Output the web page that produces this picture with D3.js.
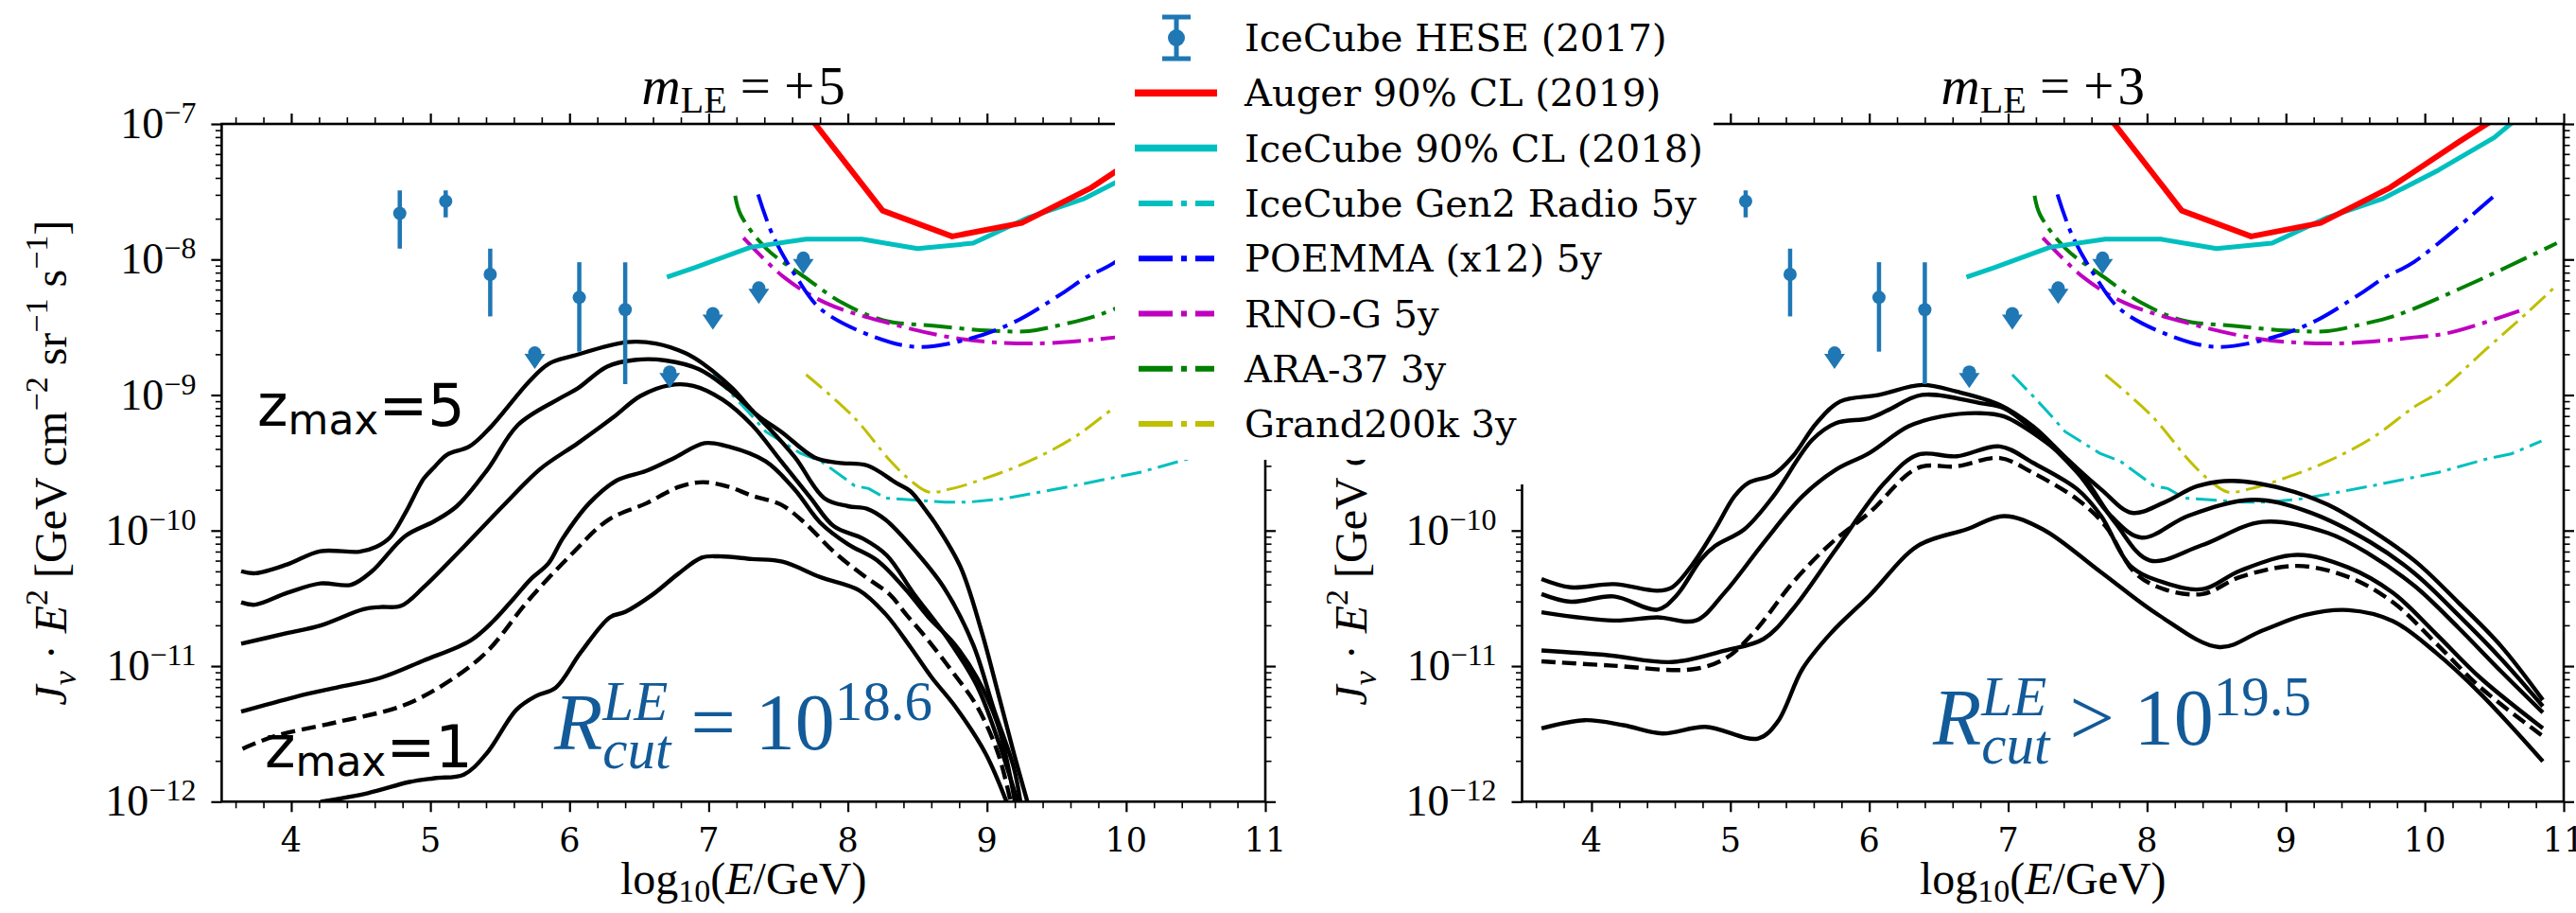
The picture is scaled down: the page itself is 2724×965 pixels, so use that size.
<!DOCTYPE html>
<html>
<head>
<meta charset="utf-8">
<script src="https://cdn.jsdelivr.net/npm/d3@7"></script>
<style>
  html, body { margin: 0; padding: 0; background: #fff; }
  svg { display: block; }
  text { white-space: pre; }
</style>
</head>
<body>
<svg id="fig" width="2724" height="965"></svg>
<script>
// ---------------------------------------------------------------------------
// Data: x = log10(E/GeV), y = log10(J_nu * E^2 / [GeV cm^-2 sr^-1 s^-1])
// ---------------------------------------------------------------------------

// IceCube HESE (2017) measured points with error bars
const heseLogE      = [4.78, 5.11, 5.43, 6.07, 6.40];
const heseLogFlux   = [-7.66, -7.57, -8.11, -8.28, -8.37];
const heseLogFluxHi = [-7.49, -7.49, -7.92, -8.02, -8.02];
const heseLogFluxLo = [-7.92, -7.69, -8.42, -8.68, -8.92];
// IceCube HESE (2017) upper limits
const heseLimLogE    = [5.75, 6.72, 7.03, 7.36, 7.68];
const heseLimLogFlux = [-8.69, -8.83, -8.40, -8.21, -7.99];

// Auger 90% CL (2019)
const augerLimit = [[7.75, -6.98], [8.25, -7.64], [8.75, -7.83], [9.25, -7.73], [9.75, -7.47], [10.25, -7.13], [10.75, -6.80]];
// IceCube 90% CL (2018)
const icecubeLimit = [[6.7, -8.13], [6.9, -8.06], [7.3, -7.91], [7.7, -7.85], [8.1, -7.85], [8.5, -7.92], [8.9, -7.88],
                      [9.3, -7.69], [9.7, -7.55], [10.1, -7.34], [10.5, -7.10], [10.9, -6.76]];
// Projected sensitivities
const gen2Radio = [[7.03, -8.85], [7.19, -9.02], [7.29, -9.13], [7.41, -9.27], [7.66, -9.43], [7.81, -9.49], [8.05, -9.67],
                   [8.15, -9.69], [8.27, -9.76], [8.70, -9.79], [8.87, -9.79], [9.12, -9.765], [9.36, -9.72], [9.63, -9.668],
                   [10.10, -9.57], [10.45, -9.47], [10.62, -9.435], [10.84, -9.34]];
const poemma = [[7.355, -7.52], [7.46, -7.82], [7.63, -8.13], [7.81, -8.37], [8.20, -8.575], [8.50, -8.645], [8.87, -8.586],
                [9.20, -8.46], [9.54, -8.25], [9.71, -8.133], [9.92, -8.02], [10.49, -7.54]];
const rnoG = [[7.25, -7.84], [7.54, -8.13], [7.84, -8.32], [8.26, -8.46], [8.81, -8.586], [9.34, -8.62], [9.92, -8.575],
              [10.18, -8.54], [10.68, -8.38]];
const ara37 = [[7.19, -7.53], [7.23, -7.67], [7.415, -7.92], [7.69, -8.13], [7.96, -8.32], [8.26, -8.45], [8.63, -8.49],
               [9.00, -8.524], [9.30, -8.528], [9.54, -8.48], [9.80, -8.41], [10.33, -8.18], [10.95, -7.88]];
const grand200k = [[7.70, -8.85], [8.04, -9.16], [8.30, -9.48], [8.45, -9.63], [8.58, -9.715], [8.75, -9.69], [9.00, -9.61],
                   [9.30, -9.49], [9.63, -9.31], [9.92, -9.09], [10.08, -8.99], [10.46, -8.645], [10.74, -8.39], [10.95, -8.19]];

// Model neutrino fluxes, m_LE = +5 (z_max from 5 down to 1; the dashed one is drawn dashed)
const m5A = [[3.64, -10.30], [3.74, -10.315], [3.97, -10.25], [4.21, -10.152], [4.49, -10.156], [4.61, -10.12], [4.71, -10.05],
             [4.82, -9.87], [4.95, -9.62], [5.03, -9.53], [5.12, -9.44], [5.28, -9.38], [5.43, -9.24], [5.71, -8.90],
             [5.85, -8.77], [6.03, -8.71], [6.41, -8.61], [6.62, -8.62], [6.83, -8.69], [6.96, -8.77], [7.17, -8.95],
             [7.34, -9.14], [7.52, -9.27], [7.76, -9.46], [7.93, -9.50], [8.14, -9.52], [8.35, -9.65], [8.45, -9.71],
             [8.56, -9.85], [8.63, -9.95], [8.81, -10.27], [8.96, -10.74], [9.08, -11.20], [9.20, -11.67], [9.29, -12.0]];
const m5B = [[3.64, -10.53], [3.74, -10.547], [3.97, -10.46], [4.21, -10.39], [4.43, -10.40], [4.58, -10.30], [4.82, -10.04],
             [5.03, -9.93], [5.19, -9.82], [5.41, -9.55], [5.63, -9.22], [5.92, -9.03], [6.06, -8.95], [6.27, -8.79],
             [6.48, -8.74], [6.69, -8.745], [6.93, -8.81], [7.17, -8.98], [7.41, -9.22], [7.62, -9.46], [7.83, -9.76],
             [8.00, -9.82], [8.14, -9.84], [8.27, -9.92], [8.45, -10.11], [8.69, -10.42], [8.90, -10.84], [9.05, -11.32],
             [9.19, -11.74], [9.24, -12.0]];
const m5C = [[3.64, -10.835], [3.97, -10.757], [4.21, -10.70], [4.52, -10.58], [4.64, -10.564], [4.79, -10.555], [4.95, -10.42],
             [5.24, -10.12], [5.53, -9.81], [5.79, -9.545], [6.06, -9.355], [6.31, -9.168], [6.51, -9.007], [6.72, -8.927],
             [6.89, -8.932], [7.10, -9.034], [7.31, -9.22], [7.52, -9.488], [7.73, -9.756], [7.90, -9.969], [8.11, -10.06],
             [8.28, -10.183], [8.47, -10.46], [8.72, -10.80], [8.93, -11.15], [9.08, -11.55], [9.22, -12.0]];
const m5D = [[3.64, -11.336], [4.03, -11.227], [4.33, -11.157], [4.64, -11.087], [4.95, -10.96], [5.29, -10.81], [5.45, -10.67],
             [5.60, -10.50], [5.72, -10.36], [5.85, -10.24], [5.95, -10.06], [6.14, -9.80], [6.34, -9.63], [6.55, -9.56],
             [6.76, -9.46], [6.97, -9.355], [7.14, -9.38], [7.41, -9.49], [7.62, -9.70], [7.80, -9.94], [8.00, -10.10],
             [8.21, -10.22], [8.42, -10.44], [8.58, -10.64], [8.76, -10.83], [8.93, -11.09], [9.08, -11.44], [9.20, -12.0]];
const m5E = [[3.65, -11.61], [3.88, -11.517], [4.33, -11.413], [4.79, -11.296], [5.09, -11.14], [5.40, -10.90], [5.70, -10.52],
             [6.00, -10.19], [6.28, -9.92], [6.55, -9.80], [6.79, -9.676], [6.96, -9.643], [7.14, -9.676], [7.31, -9.742],
             [7.52, -9.809], [7.69, -9.943], [7.90, -10.157], [8.11, -10.33], [8.30, -10.47], [8.42, -10.62], [8.57, -10.80],
             [8.75, -11.04], [8.93, -11.30], [9.08, -11.645], [9.17, -12.0]];
const m5F = [[4.21, -12.0], [4.55, -11.937], [4.85, -11.855], [5.03, -11.827], [5.24, -11.80], [5.40, -11.65], [5.62, -11.32],
             [5.76, -11.22], [5.90, -11.16], [6.08, -10.90], [6.29, -10.64], [6.40, -10.60], [6.60, -10.47], [6.78, -10.32],
             [6.95, -10.20], [7.07, -10.19], [7.31, -10.21], [7.53, -10.23], [7.80, -10.343], [8.08, -10.44], [8.27, -10.615],
             [8.45, -10.86], [8.60, -11.08], [8.78, -11.31], [8.99, -11.645], [9.14, -12.0]];

// Model neutrino fluxes, m_LE = +3
const m3A = [[3.64, -10.358], [3.85, -10.419], [4.16, -10.395], [4.475, -10.444], [4.58, -10.419], [4.72, -10.26], [4.89, -9.99],
             [5.03, -9.746], [5.13, -9.648], [5.31, -9.587], [5.45, -9.452], [5.62, -9.207], [5.79, -9.048], [6.07, -8.999],
             [6.38, -8.926], [6.63, -8.975], [6.94, -9.073], [7.18, -9.232], [7.43, -9.477], [7.67, -9.697], [7.89, -9.869],
             [8.12, -9.795], [8.36, -9.673], [8.61, -9.633], [8.98, -9.691], [9.30, -9.808], [9.61, -9.994], [9.93, -10.226],
             [10.24, -10.529], [10.55, -10.854], [10.85, -11.25]];
const m3B = [[3.64, -10.468], [3.85, -10.525], [4.16, -10.486], [4.475, -10.583], [4.61, -10.481], [4.79, -10.211], [4.89, -10.113],
             [5.10, -9.991], [5.31, -9.746], [5.59, -9.33], [5.76, -9.207], [6.00, -9.171], [6.14, -9.109], [6.38, -8.999],
             [6.80, -9.06], [6.97, -9.097], [7.18, -9.256], [7.50, -9.575], [7.74, -9.893], [7.96, -10.052], [8.30, -9.89],
             [8.76, -9.773], [9.14, -9.854], [9.61, -10.087], [9.93, -10.319], [10.24, -10.622], [10.55, -10.947], [10.85, -11.296]];
const m3C = [[3.64, -10.603], [4.16, -10.664], [4.475, -10.64], [4.75, -10.664], [4.96, -10.456], [5.24, -10.089], [5.52, -9.746],
             [5.76, -9.55], [6.00, -9.428], [6.28, -9.232], [6.52, -9.158], [6.80, -9.134], [6.97, -9.158], [7.18, -9.281],
             [7.50, -9.55], [7.77, -9.942], [8.02, -10.22], [8.39, -10.11], [8.83, -9.936], [9.30, -10.017], [9.61, -10.18],
             [9.93, -10.412], [10.24, -10.715], [10.55, -11.04], [10.85, -11.343]];
const m3D = [[3.64, -10.885], [4.13, -10.921], [4.58, -10.97], [4.96, -10.885], [5.24, -10.799], [5.45, -10.579], [5.76, -10.138],
             [6.11, -9.648], [6.35, -9.44], [6.63, -9.452], [6.94, -9.379], [7.18, -9.501], [7.50, -9.697], [7.67, -9.893],
             [7.88, -10.26], [8.12, -10.383], [8.40, -10.432], [8.67, -10.296], [9.08, -10.18], [9.45, -10.273], [9.77, -10.459],
             [10.08, -10.761], [10.40, -11.087], [10.85, -11.459]];
const m3E = [[3.64, -10.965], [4.13, -10.995], [4.72, -11.024], [4.96, -10.946], [5.17, -10.75], [5.45, -10.383], [5.73, -10.089],
             [6.00, -9.869], [6.35, -9.538], [6.63, -9.526], [6.94, -9.465], [7.18, -9.575], [7.50, -9.771], [7.70, -9.966],
             [7.91, -10.309], [8.12, -10.432], [8.40, -10.468], [8.67, -10.343], [9.08, -10.261], [9.45, -10.343], [9.77, -10.529],
             [10.08, -10.831], [10.40, -11.157], [10.85, -11.517]];
const m3F = [[3.64, -11.46], [3.95, -11.399], [4.23, -11.436], [4.51, -11.497], [4.82, -11.448], [5.20, -11.534], [5.34, -11.411],
             [5.52, -11.019], [5.73, -10.75], [6.00, -10.481], [6.35, -10.113], [6.70, -9.991], [6.97, -9.893], [7.25, -9.991],
             [7.67, -10.309], [8.09, -10.628], [8.52, -10.86], [8.83, -10.738], [9.14, -10.622], [9.45, -10.587], [9.77, -10.668],
             [10.08, -10.901], [10.40, -11.203], [10.85, -11.703]];

// Axis ticks and labels
const energyMajorTicks = [4, 5, 6, 7, 8, 9, 10, 11];
const fluxDecadeExponents = [-12, -11, -10, -9, -8, -7];
const panelTitleValues = ["+5", "+3"];
const cutoffRelations = ["=", ">"];
const cutoffExponents = ["18.6", "19.5"];
const legendLabels = ["IceCube HESE (2017)", "Auger 90% CL (2019)", "IceCube 90% CL (2018)", "IceCube Gen2 Radio 5y",
                      "POEMMA (x12) 5y", "RNO-G 5y", "ARA-37 3y", "Grand200k 3y"];

// ---------------------------------------------------------------------------
// Styling and layout
// ---------------------------------------------------------------------------
const MATH_FONT = "'Liberation Serif', 'Times New Roman', serif";
const SERIF_FONT = "'DejaVu Serif', serif";
const SANS_FONT = "'DejaVu Sans', sans-serif";
const HESE_COLOR = "#1f77b4";
const NOTE_COLOR = "#125a98";
const Y_TOP = 131, Y_BOT = 847.3;

const svg = d3.select("#fig");
const defs = svg.append("defs");

// Lays out a sequence of text runs (with sub/superscripts) starting at the group origin.
function richText(parent, runs, family, color) {
  const g = parent.append("g");
  let cx = 0, lastStart = 0;
  runs.forEach(r => {
    const startX = r.stack ? lastStart : cx;
    const t = g.append("text")
      .attr("x", startX)
      .attr("y", r.dy || 0)
      .attr("font-family", r.family || family)
      .attr("font-size", r.size)
      .attr("font-style", r.italic ? "italic" : "normal")
      .attr("fill", color || "#000")
      .text(r.t);
    const w = t.node().getComputedTextLength();
    if (r.stack) {
      cx = Math.max(cx, startX + w);
    } else {
      lastStart = startX;
      cx = startX + w + (r.gap || 0);
    }
  });
  return { g, width: cx };
}

const dashStyles = {
  thick: { width: 4, dash: "30 8 5 8" },
  thin: { width: 3, dash: "22 7 4 7" }
};

function drawPanel(p, idx) {
  const x = d3.scaleLinear().domain([3.5, 11]).range([p.x0, p.x1]);
  const y = d3.scaleLog().domain([1e-12, 1e-7]).range([Y_BOT, Y_TOP]);
  const g = svg.append("g").attr("class", "panel-" + p.id);

  const clipId = "clip-" + p.id;
  defs.append("clipPath").attr("id", clipId).append("rect")
    .attr("x", p.x0).attr("y", Y_TOP).attr("width", p.x1 - p.x0).attr("height", Y_BOT - Y_TOP);
  const plot = g.append("g").attr("clip-path", `url(#${clipId})`);

  const px = d => x(d[0]);
  const py = d => y(Math.pow(10, d[1]));
  const smooth = d3.line().x(px).y(py).curve(d3.curveCatmullRom.alpha(0.5));
  const straight = d3.line().x(px).y(py);

  // experimental limits and projected sensitivities
  const sens = [
    { data: gen2Radio, color: "#00bfbf", style: dashStyles.thin, gen: straight },
    { data: grand200k, color: "#bfbf00", style: dashStyles.thin, gen: smooth },
    { data: ara37, color: "#008000", style: dashStyles.thick, gen: smooth },
    { data: rnoG, color: "#bf00bf", style: dashStyles.thick, gen: smooth },
    { data: poemma, color: "#0000ff", style: dashStyles.thick, gen: smooth }
  ];
  sens.forEach(s => {
    plot.append("path").attr("d", s.gen(s.data)).attr("fill", "none")
      .attr("stroke", s.color).attr("stroke-width", s.style.width)
      .attr("stroke-dasharray", s.style.dash);
  });
  plot.append("path").attr("d", straight(icecubeLimit)).attr("fill", "none")
    .attr("stroke", "#00bfbf").attr("stroke-width", 5).attr("stroke-linejoin", "round");
  plot.append("path").attr("d", straight(augerLimit)).attr("fill", "none")
    .attr("stroke", "#ff0000").attr("stroke-width", 6).attr("stroke-linejoin", "round");

  // model fluxes
  p.solid.forEach(c => {
    plot.append("path").attr("d", smooth(c)).attr("fill", "none")
      .attr("stroke", "#000").attr("stroke-width", 4.4).attr("stroke-linejoin", "round");
  });
  plot.append("path").attr("d", smooth(p.dashed)).attr("fill", "none")
    .attr("stroke", "#000").attr("stroke-width", 4.4).attr("stroke-dasharray", "15 7");

  // IceCube HESE points and upper limits
  const hese = plot.append("g");
  heseLogE.forEach((e, i) => {
    hese.append("line")
      .attr("x1", x(e)).attr("x2", x(e))
      .attr("y1", y(Math.pow(10, heseLogFluxHi[i]))).attr("y2", y(Math.pow(10, heseLogFluxLo[i])))
      .attr("stroke", HESE_COLOR).attr("stroke-width", 4.5);
    hese.append("circle").attr("cx", x(e)).attr("cy", y(Math.pow(10, heseLogFlux[i]))).attr("r", 7)
      .attr("fill", HESE_COLOR);
  });
  heseLimLogE.forEach((e, i) => {
    const cx = x(e), cy = y(Math.pow(10, heseLimLogFlux[i]));
    hese.append("circle").attr("cx", cx).attr("cy", cy).attr("r", 7).attr("fill", HESE_COLOR);
    hese.append("path")
      .attr("d", `M${cx - 11},${cy + 1} L${cx + 11},${cy + 1} L${cx},${cy + 17} Z`)
      .attr("fill", HESE_COLOR);
  });

  // ticks
  const xMinor = d3.range(3.6, 11.0, 0.2).filter(v => Math.abs(v - Math.round(v)) > 1e-6);
  const yMajor = fluxDecadeExponents.map(k => Math.pow(10, k));
  const yMinor = y.ticks().filter(v => Math.abs(Math.log10(v) - Math.round(Math.log10(v))) > 1e-6);
  const styleAxis = (sel, w) => {
    sel.select(".domain").remove();
    sel.selectAll(".tick text").remove();
    sel.selectAll(".tick line").attr("stroke", "#000").attr("stroke-width", w);
  };
  const blank = () => "";
  const axes = g.append("g");
  axes.append("g").attr("transform", `translate(0,${Y_BOT})`)
    .call(d3.axisBottom(x).tickValues(energyMajorTicks).tickSize(11).tickFormat(blank)).call(s => styleAxis(s, 2.2));
  axes.append("g").attr("transform", `translate(0,${Y_BOT})`)
    .call(d3.axisBottom(x).tickValues(xMinor).tickSize(7).tickFormat(blank)).call(s => styleAxis(s, 1.6));
  axes.append("g").attr("transform", `translate(0,${Y_TOP})`)
    .call(d3.axisTop(x).tickValues(energyMajorTicks).tickSize(11).tickFormat(blank)).call(s => styleAxis(s, 2.2));
  axes.append("g").attr("transform", `translate(0,${Y_TOP})`)
    .call(d3.axisTop(x).tickValues(xMinor).tickSize(7).tickFormat(blank)).call(s => styleAxis(s, 1.6));
  axes.append("g").attr("transform", `translate(${p.x0},0)`)
    .call(d3.axisLeft(y).tickValues(yMajor).tickSize(11).tickFormat(blank)).call(s => styleAxis(s, 2.2));
  axes.append("g").attr("transform", `translate(${p.x0},0)`)
    .call(d3.axisLeft(y).tickValues(yMinor).tickSize(6.5).tickFormat(blank)).call(s => styleAxis(s, 1.6));
  axes.append("g").attr("transform", `translate(${p.x1},0)`)
    .call(d3.axisRight(y).tickValues(yMajor).tickSize(11).tickFormat(blank)).call(s => styleAxis(s, 2.2));
  axes.append("g").attr("transform", `translate(${p.x1},0)`)
    .call(d3.axisRight(y).tickValues(yMinor).tickSize(6.5).tickFormat(blank)).call(s => styleAxis(s, 1.6));

  // spines
  axes.append("rect").attr("x", p.x0).attr("y", Y_TOP).attr("width", p.x1 - p.x0).attr("height", Y_BOT - Y_TOP)
    .attr("fill", "none").attr("stroke", "#000").attr("stroke-width", 2.6);

  // x tick labels
  energyMajorTicks.forEach(v => {
    axes.append("text").attr("x", x(v)).attr("y", 900).attr("text-anchor", "middle")
      .attr("font-family", SERIF_FONT).attr("font-size", 35).text(String(v));
  });
  // y tick labels: 10^k
  fluxDecadeExponents.forEach(k => {
    const lab = richText(axes, [
      { t: "10", size: 46 },
      { t: "\u2212" + Math.abs(k), size: 32, dy: -16 }
    ], MATH_FONT);
    lab.g.attr("transform", `translate(${p.x0 - 27 - lab.width},${y(Math.pow(10, k)) + 15})`);
  });

  // x axis label
  const xl = richText(axes, [
    { t: "log", size: 48 }, { t: "10", size: 34, dy: 8 }, { t: "(", size: 48 },
    { t: "E", size: 48, italic: true }, { t: "/GeV)", size: 48 }
  ], MATH_FONT);
  xl.g.attr("transform", `translate(${(p.x0 + p.x1) / 2 - xl.width / 2},945)`);

  // y axis label
  const yl = richText(axes, [
    { t: "J", size: 48, italic: true }, { t: "\u03bd", size: 34, dy: 10, italic: true },
    { t: " \u00b7 ", size: 48 }, { t: "E", size: 48, italic: true }, { t: "2", size: 34, dy: -20 },
    { t: " [GeV cm", size: 48 }, { t: "\u22122", size: 34, dy: -20 },
    { t: " sr", size: 48 }, { t: "\u22121", size: 34, dy: -20 },
    { t: " s", size: 48 }, { t: "\u22121", size: 34, dy: -20 }, { t: "]", size: 48 }
  ], MATH_FONT);
  yl.g.attr("transform", `translate(${p.ylabelX},${(Y_TOP + Y_BOT) / 2 + yl.width / 2}) rotate(-90)`);

  // panel title
  const tt = richText(g, [
    { t: "m", size: 57, italic: true }, { t: "LE", size: 40, dy: 9 },
    { t: " = +", size: 57, gap: 4 }, { t: panelTitleValues[idx].slice(1), size: 57 }
  ], MATH_FONT);
  tt.g.attr("transform", `translate(${(p.x0 + p.x1) / 2 - tt.width / 2},110)`);

  // cutoff annotation
  const cut = richText(g, [
    { t: "R", size: 84, italic: true },
    { t: "LE", size: 59, italic: true, dy: -31 },
    { t: "cut", size: 59, italic: true, dy: 20, stack: true },
    { t: " " + cutoffRelations[idx] + " 10", size: 84 },
    { t: cutoffExponents[idx], size: 59, dy: -31 }
  ], MATH_FONT, NOTE_COLOR);
  cut.g.attr("transform", `translate(${p.cutX},${p.cutY})`);

  // z_max labels
  if (p.zLabels) {
    const z5 = richText(g, [{ t: "z", size: 62 }, { t: "max", size: 44, dy: 9 }, { t: "=5", size: 62 }], SANS_FONT);
    z5.g.attr("transform", "translate(272,450)");
    const z1 = richText(g, [{ t: "z", size: 62 }, { t: "max", size: 44, dy: 9 }, { t: "=1", size: 62 }], SANS_FONT);
    z1.g.attr("transform", "translate(280,811)");
  }
}

const panels = [
  { id: "m5", x0: 234.4, x1: 1338, solid: [m5A, m5B, m5C, m5D, m5F], dashed: m5E,
    cutX: 586, cutY: 792, ylabelX: 70, zLabels: true },
  { id: "m3", x0: 1609.5, x1: 2711, solid: [m3A, m3B, m3C, m3D, m3F], dashed: m3E,
    cutX: 2044, cutY: 787, ylabelX: 1445, zLabels: false }
];
panels.forEach(drawPanel);

// ---------------------------------------------------------------------------
// Legend (opaque box, sits over both panels)
// ---------------------------------------------------------------------------
const legend = svg.append("g");
legend.append("path")
  .attr("d", "M1179,-5 H1812 V512 H1530 V486 H1179 Z")
  .attr("fill", "#fff");

const rowY = i => 40 + i * 58.3;
const handleX0 = 1204, handleX1 = 1285;
// HESE errorbar handle
const hx = 1244;
legend.append("line").attr("x1", hx).attr("x2", hx).attr("y1", rowY(0) - 22).attr("y2", rowY(0) + 22)
  .attr("stroke", HESE_COLOR).attr("stroke-width", 5);
[-22, 22].forEach(o => legend.append("line").attr("x1", hx - 15).attr("x2", hx + 15)
  .attr("y1", rowY(0) + o).attr("y2", rowY(0) + o).attr("stroke", HESE_COLOR).attr("stroke-width", 5));
legend.append("circle").attr("cx", hx).attr("cy", rowY(0)).attr("r", 9).attr("fill", HESE_COLOR);

const legendHandles = [
  null,
  { color: "#ff0000", width: 7.5, dash: null },
  { color: "#00bfbf", width: 7.5, dash: null },
  { color: "#00bfbf", width: 6, dash: "36 9 6 9" },
  { color: "#0000ff", width: 6, dash: "36 9 6 9" },
  { color: "#bf00bf", width: 6, dash: "36 9 6 9" },
  { color: "#008000", width: 6, dash: "36 9 6 9" },
  { color: "#bfbf00", width: 6, dash: "36 9 6 9" }
];
legendHandles.forEach((h, i) => {
  if (!h) return;
  const isSolid = !h.dash;
  legend.append("line")
    .attr("x1", isSolid ? 1200 : handleX0).attr("x2", isSolid ? 1287 : handleX1 - 1)
    .attr("y1", rowY(i)).attr("y2", rowY(i))
    .attr("stroke", h.color).attr("stroke-width", h.width)
    .attr("stroke-dasharray", h.dash);
});
legendLabels.forEach((lab, i) => {
  legend.append("text").attr("x", 1316).attr("y", rowY(i) + 14)
    .attr("font-family", SERIF_FONT).attr("font-size", 40).attr("fill", "#000").text(lab);
});
</script>
</body>
</html>
